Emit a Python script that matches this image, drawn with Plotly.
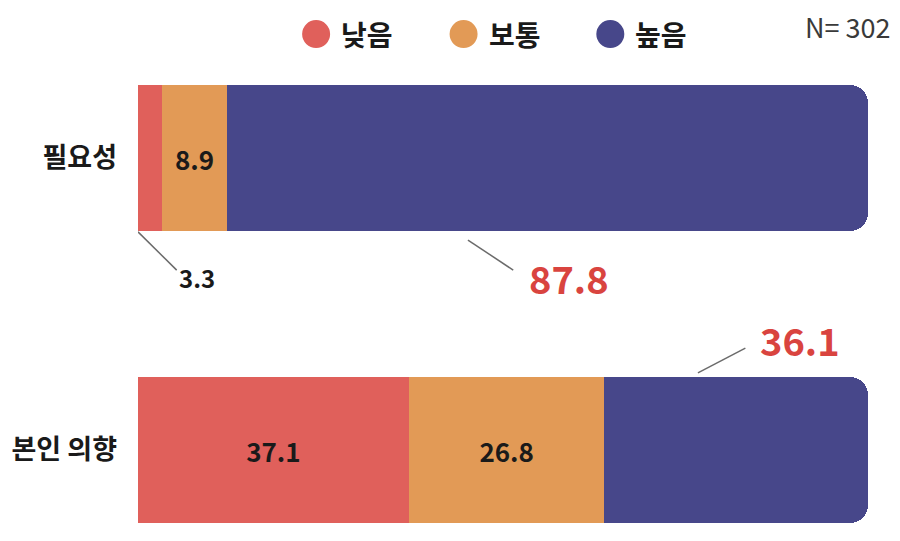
import plotly.graph_objects as go

# Survey results (%), N=302
categories = ['필요성', '본인 의향']
levels = ['낮음', '보통', '높음']
low = [3.3, 37.1]
mid = [8.9, 26.8]
high = [87.8, 36.1]
sample_size = 302

colors = {'낮음': '#E0605B', '보통': '#E29A56', '높음': '#47478A'}
label_red = '#D9443F'
text_dark = '#1a1a1a'
line_grey = '#6b6b6b'
font_family = 'Noto Sans CJK KR, Noto Sans, sans-serif'

fig = go.Figure()

series = {'낮음': low, '보통': mid, '높음': high}

# Stacked bars; only the values printed inside the bars in the original get inside text
inside_text = {
    '낮음': ['', f'{low[1]}'],
    '보통': [f'{mid[0]}', f'{mid[1]}'],
    '높음': ['', ''],
}
for lv in levels:
    fig.add_trace(go.Bar(
        y=categories, x=series[lv], orientation='h', name=lv,
        marker_color=colors[lv], marker_line_width=0,
        text=inside_text[lv], textposition='inside', insidetextanchor='middle',
        textfont=dict(size=26, color=text_dark, family=font_family, weight='bold'),
        showlegend=False, width=0.5,
    ))

# Outside value labels: (value, text position, leader start, leader end, size, colour)
outside_labels = [
    (low[0], (8.1, 0.41), (0.0, 0.253), (5.3, 0.384), 24, text_dark),
    (high[0], (59.0, 0.41), (45.2, 0.281), (51.4, 0.384), 38, label_red),
    (high[1], (90.7, 0.62), (76.7, 0.736), (83.2, 0.651), 38, label_red),
]
for val, (tx, ty), (x0, y0), (x1, y1), size, col in outside_labels:
    fig.add_shape(type='line', xref='x', yref='y', x0=x0, y0=y0, x1=x1, y1=y1,
                  line=dict(color=line_grey, width=1.5))
    fig.add_annotation(x=tx, y=ty, xref='x', yref='y', text=f'<b>{val}</b>',
                       showarrow=False, xanchor='center', yanchor='middle',
                       font=dict(size=size, color=col, family=font_family))

# Circle legend drawn above the plot (paper coords)
legend_x = [0.244, 0.446, 0.647]
legend_y = 1.055
for lv, lx in zip(levels, legend_x):
    fig.add_shape(type='circle', xref='paper', yref='paper',
                  xsizemode='pixel', ysizemode='pixel', xanchor=lx, yanchor=legend_y,
                  x0=-14, x1=14, y0=-14, y1=14,
                  fillcolor=colors[lv], line_width=0)
    fig.add_annotation(x=lx, y=legend_y, xref='paper', yref='paper', xshift=23,
                       text=f'<b>{lv}</b>', showarrow=False, xanchor='left', yanchor='middle',
                       font=dict(size=28, color=text_dark, family=font_family))

fig.add_annotation(x=0.973, y=1.072, xref='paper', yref='paper', xanchor='center', yanchor='middle',
                   text=f'N= {sample_size}', showarrow=False,
                   font=dict(size=27, color='#3a3a3a', family=font_family))

fig.update_layout(
    width=884, height=525,
    barmode='stack',
    barcornerradius=18,
    plot_bgcolor='white', paper_bgcolor='white',
    margin=dict(l=130, r=24, t=52, b=2),
    font=dict(family=font_family),
    showlegend=False,
    xaxis=dict(range=[0, 100], visible=False, fixedrange=True),
    yaxis=dict(categoryorder='array', categoryarray=categories,
               range=[1.2774, -0.3356], showgrid=False, zeroline=False, showline=False,
               ticks='', ticklabelstandoff=20, fixedrange=True,
               tickfont=dict(size=27, color=text_dark, family=font_family, weight='bold')),
)

fig.write_html('out.html')
